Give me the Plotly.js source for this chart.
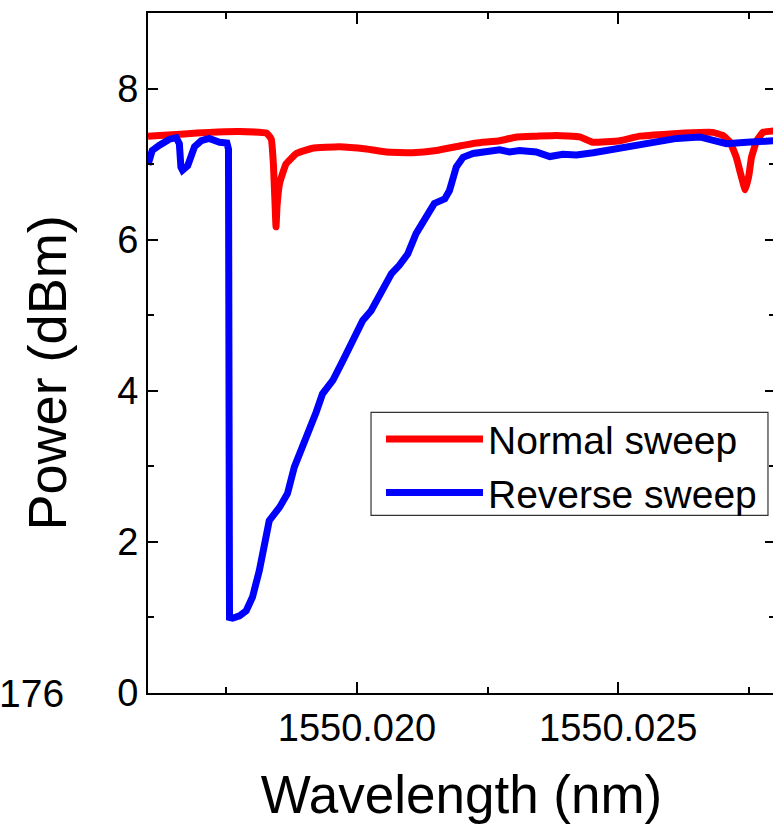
<!DOCTYPE html>
<html>
<head>
<meta charset="utf-8">
<script src="https://cdn.plot.ly/plotly-3.0.1.min.js"></script>
<style>
html,body{margin:0;padding:0;overflow:hidden;background:#fff;}
#chart{width:778px;height:825px;}
</style>
</head>
<body>
<div id="chart"></div>
<script>
// Normal sweep (red)
const normalWavelength = [1550.01600,1550.01622,1550.01670,1550.01717,1550.01775,1550.01827,1550.01836,1550.01840,1550.01843,1550.01845,1550.01847,1550.01852,1550.01864,1550.01884,1550.01915,1550.01966,1550.02018,1550.02056,1550.02106,1550.02152,1550.02196,1550.02229,1550.02273,1550.02306,1550.02344,1550.02382,1550.02426,1550.02451,1550.02503,1550.02541,1550.02599,1550.02656,1550.02681,1550.02700,1550.02714,1550.02726,1550.02735,1550.02743,1550.02750,1550.02755,1550.02765,1550.02777,1550.02800];
const normalPower = [7.37,7.38,7.40,7.42,7.43,7.41,7.33,7.00,6.50,6.17,6.45,6.75,7.00,7.14,7.21,7.23,7.20,7.16,7.15,7.18,7.24,7.28,7.31,7.36,7.37,7.38,7.36,7.29,7.31,7.37,7.40,7.42,7.42,7.38,7.29,7.09,6.85,6.66,6.85,7.09,7.31,7.42,7.44];

// Reverse sweep (blue)
const reverseWavelength = [1550.01600,1550.01608,1550.01622,1550.01641,1550.01654,1550.01660,1550.01663,1550.01666,1550.01676,1550.01689,1550.01702,1550.01717,1550.01737,1550.01751,1550.01754,1550.01756,1550.01762,1550.01775,1550.01788,1550.01800,1550.01813,1550.01823,1550.01832,1550.01852,1550.01867,1550.01880,1550.01896,1550.01909,1550.01922,1550.01934,1550.01954,1550.01973,1550.01992,1550.02011,1550.02027,1550.02046,1550.02066,1550.02081,1550.02097,1550.02113,1550.02133,1550.02148,1550.02168,1550.02177,1550.02190,1550.02203,1550.02222,1550.02248,1550.02273,1550.02292,1550.02311,1550.02343,1550.02369,1550.02394,1550.02420,1550.02452,1550.02490,1550.02528,1550.02573,1550.02612,1550.02656,1550.02682,1550.02707,1550.02746,1550.02800];
const reversePower = [6.99,7.18,7.25,7.33,7.35,7.27,6.96,6.92,6.98,7.23,7.31,7.34,7.29,7.28,7.20,1.00,0.99,1.02,1.09,1.27,1.62,1.97,2.28,2.46,2.64,2.99,3.25,3.52,3.72,3.96,4.14,4.40,4.67,4.93,5.06,5.28,5.55,5.66,5.81,6.08,6.30,6.48,6.54,6.65,6.96,7.09,7.14,7.16,7.19,7.16,7.18,7.16,7.10,7.13,7.12,7.15,7.19,7.25,7.29,7.34,7.36,7.32,7.27,7.29,7.31];

const seriesNames = ["Normal sweep", "Reverse sweep"];
const xTickVals = [1550.020, 1550.025];
const xTickText = ["1550.020", "1550.025"];
const xMinorVals = [1550.0175, 1550.0225, 1550.0275];
const yTickVals = [0, 2, 4, 6, 8];
const yMinorVals = [1, 3, 5, 7];
const xTitle = "Wavelength (nm)";
const yTitle = "Power (dBm)";
const strayLabel = "176";

const FONT = "Arial, 'Liberation Sans', sans-serif";

const traces = [
  {x: normalWavelength, y: normalPower, name: seriesNames[0], mode: "lines",
   line: {color: "#ff0000", width: 7, shape: "spline", smoothing: 0.3}},
  {x: reverseWavelength, y: reversePower, name: seriesNames[1], mode: "lines",
   line: {color: "#0000ff", width: 7}}
];

const layout = {
  width: 778, height: 825,
  margin: {l: 148, r: 3, t: 13, b: 132, pad: 0},
  paper_bgcolor: "#fff", plot_bgcolor: "#fff",
  font: {family: FONT, color: "#000", size: 38},
  showlegend: true,
  legend: {
    x: 0.3716, y: 0.4205, xanchor: "left", yanchor: "top",
    borderwidth: 0, bgcolor: "rgba(0,0,0,0)",
    font: {family: FONT, size: 39, color: "#000"},
    itemwidth: 97, tracegroupgap: 0
  },
  xaxis: {
    range: [1550.016, 1550.028],
    tickmode: "array", tickvals: xTickVals, ticktext: xTickText,
    ticks: "inside", ticklen: 11, tickwidth: 2, tickcolor: "#000",
    minor: {tickmode: "array", tickvals: xMinorVals, ticks: "inside", ticklen: 6, tickwidth: 2, tickcolor: "#000"},
    showline: true, linewidth: 2, linecolor: "#000", mirror: "ticks",
    showgrid: false, zeroline: false,
    tickfont: {family: FONT, size: 38, color: "#000"},
    title: {text: xTitle, font: {family: FONT, size: 53, color: "#000"}, standoff: 28}
  },
  yaxis: {
    range: [0, 9],
    tickmode: "array", tickvals: yTickVals,
    ticks: "inside", ticklen: 10, tickwidth: 2, tickcolor: "#000",
    minor: {tickmode: "array", tickvals: yMinorVals, ticks: "inside", ticklen: 6, tickwidth: 2, tickcolor: "#000"},
    showline: true, linewidth: 2, linecolor: "#000", mirror: "ticks",
    showgrid: false, zeroline: false,
    tickfont: {family: FONT, size: 38, color: "#000"}
  },
  shapes: [
    {type: "rect", xref: "paper", yref: "paper", x0: 0.3557, x1: 0.9888, y0: 0.2612, y1: 0.4128,
     line: {color: "#333", width: 1.2}, fillcolor: "rgba(0,0,0,0)", layer: "below"}
  ],
  annotations: [
    {text: yTitle, textangle: -90, xref: "paper", yref: "paper", x: -0.161, y: 0.470,
     xanchor: "center", yanchor: "middle", showarrow: false,
     font: {family: FONT, size: 54, color: "#000"}},
    {text: strayLabel, xref: "paper", yref: "y", x: -0.2405, y: 0, xanchor: "left", yanchor: "middle",
     showarrow: false, font: {family: FONT, size: 39, color: "#000"}}
  ]
};

Plotly.newPlot("chart", traces, layout, {displayModeBar: false, staticPlot: true});
</script>
</body>
</html>
